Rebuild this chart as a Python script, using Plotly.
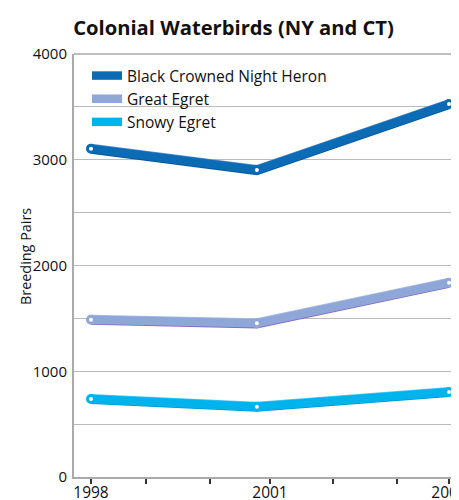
import plotly.graph_objects as go

# ---- data ----
years = [1998, 2000.78, 2004]
heron = [3105, 2903, 3527]
great_egret = [1487, 1453, 1837]
snowy_egret = [737, 665, 804]
series_names = ["Black Crowned Night Heron", "Great Egret", "Snowy Egret"]
y_tick_vals = [0, 1000, 2000, 3000, 4000]
y_tick_text = ["0", "1000", "2000", "3000", "4000"]
x_tick_vals = [1998, 2001, 2004]
x_tick_text = ["1998", "2001", "2004"]
x_tick_marks = [1998, 1998.92, 2000.0, 2001, 2002.06, 2003.13, 2004]

# ---- style ----
OFF = 8  # page body margin of the browser
W, H = 459 - OFF, 500 - OFF
ML, MT = 74 - OFF, 54 - OFF
PB = 477 - OFF          # plot bottom in figure px
MB = H - PB
plot_h = PB - MT
plot_w = W - ML
FONT = "Open Sans"
main_colors = ["#0b6bb5", "#8ea7d8", "#00b3ec"]
hi_colors = ["#5590d2", "#aabde6", "#52cbf3"]
sh_colors = ["#0a5899", "#8a68bf", "#0597cc"]
LW = 6.5
edge_px = 1.8
shift = edge_px / plot_h * 4000

fig = go.Figure()
all_vals = [heron, great_egret, snowy_egret]

# base axis anchor trace (keeps the main y axis, grid and labels)
fig.add_trace(go.Scatter(x=[years[0]], y=[y_tick_vals[0]], mode="markers",
                         marker=dict(opacity=0), showlegend=False, hoverinfo="skip"))

for i, vals in enumerate(all_vals):
    fig.add_trace(go.Scatter(x=years, y=vals, mode="lines", yaxis="y2",
                             line=dict(color=sh_colors[i], width=LW),
                             showlegend=False, hoverinfo="skip"))
    fig.add_trace(go.Scatter(x=years, y=vals, mode="lines", yaxis="y3",
                             line=dict(color=hi_colors[i], width=LW),
                             showlegend=False, hoverinfo="skip"))
for i, vals in enumerate(all_vals):
    fig.add_trace(go.Scatter(x=years, y=vals, mode="lines", yaxis="y4",
                             name=series_names[i],
                             line=dict(color=main_colors[i], width=LW + 2)))
    fig.add_trace(go.Scatter(x=years, y=vals, mode="markers", yaxis="y4",
                             marker=dict(color="white", size=7,
                                         line=dict(color=main_colors[i], width=3)),
                             showlegend=False, hoverinfo="skip"))

px_per_year = (449 - 91) / 6
x0 = 1998 - (91 - 74) / px_per_year
x1 = 2004 + (459 - 449) / px_per_year

fig.update_layout(
    width=W, height=H,
    margin=dict(l=ML, r=0, t=MT, b=MB),
    plot_bgcolor="white", paper_bgcolor="white",
    font=dict(family=FONT, size=15, color="#111"),
    title=dict(text="<b>Colonial Waterbirds (NY and CT)</b>",
               font=dict(family=FONT, size=20.2, color="#111"),
               x=(233.5 - OFF) / W, xref="container", xanchor="center",
               y=1 - (28 - OFF) / H, yref="container", yanchor="middle"),
    xaxis=dict(range=[x0, x1], tickvals=x_tick_vals, ticktext=x_tick_text,
               showgrid=False, zeroline=False, showline=True,
               linecolor="#aaaaaa", linewidth=2,
               ticks="", ticklabelstandoff=0, ticklabeloverflow="allow",
               minor=dict(tickvals=x_tick_marks, ticks="outside", ticklen=5,
                          tickwidth=1.5, tickcolor="#333", showgrid=False),
               tickfont=dict(size=15.5), automargin=False),
    yaxis=dict(range=[0, 4000], tickvals=y_tick_vals, ticktext=y_tick_text,
               showgrid=True, gridcolor="#bbbbbb", gridwidth=1,
               minor=dict(dtick=500, showgrid=True, gridcolor="#bbbbbb", gridwidth=1),
               zeroline=False, showline=True, linecolor="#aaaaaa", linewidth=2,
               ticks="", ticklabelstandoff=2,
               tickfont=dict(size=15), automargin=False),
    yaxis2=dict(range=[shift, 4000 + shift], overlaying="y", visible=False),
    yaxis3=dict(range=[-shift, 4000 - shift], overlaying="y", visible=False),
    yaxis4=dict(range=[0, 4000], overlaying="y", visible=False),
    legend=dict(x=(79 - ML) / plot_w, xanchor="left",
                y=1 - (51 - MT) / plot_h, yanchor="top",
                bgcolor="rgba(0,0,0,0)", font=dict(size=15.5),
                tracegroupgap=0),
    annotations=[dict(text="Breeding Pairs", textangle=-90, showarrow=False,
                      xref="paper", yref="paper",
                      x=(25 - OFF - ML) / plot_w, y=(PB - (257 - OFF)) / plot_h,
                      xanchor="center", yanchor="middle",
                      font=dict(size=14.4, family=FONT))],
    shapes=[dict(type="line", xref="paper", yref="paper", x0=0, x1=1, y0=1, y1=1,
                 line=dict(color="#aaaaaa", width=1.5))],
)

fig.write_html("out.html")
